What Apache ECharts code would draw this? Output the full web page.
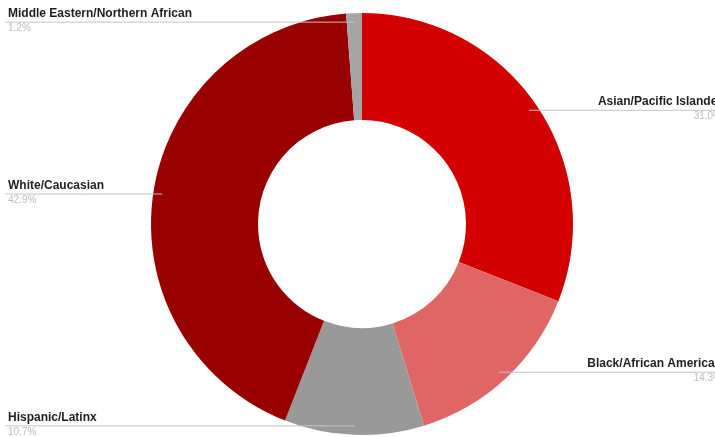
<!DOCTYPE html>
<html>
<head>
<meta charset="utf-8">
<script src="https://cdn.jsdelivr.net/npm/echarts@6/dist/echarts.min.js"></script>
<style>
html,body{margin:0;padding:0;background:#fff;}
#chart{width:715px;height:437px;}
</style>
</head>
<body>
<div id="chart"></div>
<script>
const categories = ['Asian/Pacific Islander', 'Black/African American', 'Hispanic/Latinx', 'White/Caucasian', 'Middle Eastern/Northern African'];
const values = [31.0, 14.3, 10.7, 42.9, 1.2];
const colors = ['#d30000', '#e06666', '#999999', '#990000', '#a5a5a5'];

const W = 715, H = 437;
const CX = 362, CY = 224, R_OUT = 211, R_IN = 104;
const DOT_R = 202;

const pieData = categories.map((c, i) => ({name: c, value: values[i]}));
const common = {
  type: 'pie',
  center: [CX, CY],
  radius: [R_IN, R_OUT],
  startAngle: 90,
  clockwise: true,
  avoidLabelOverlap: false,
  emphasis: {disabled: true},
  silent: true
};

const chart = echarts.init(document.getElementById('chart'), null, {renderer: 'canvas'});
chart.setOption({
  animation: false,
  color: colors,
  series: [
    Object.assign({}, common, {
      z: 2,
      data: pieData,
      itemStyle: {borderWidth: 0},
      label: {show: false},
      labelLine: {show: false}
    }),
    Object.assign({}, common, {
      z: 5,
      data: pieData,
      itemStyle: {color: 'rgba(0,0,0,0)', borderWidth: 0},
      label: {
        show: true,
        position: 'outside',
        formatter: p => '{n|' + p.name + '}\n{p|' + p.value.toFixed(1) + '%}',
        rich: {
          n: {fontFamily: 'Liberation Sans, Arial, sans-serif', fontWeight: 'bold', fontSize: 12, color: '#1f1f1f', lineHeight: 12},
          p: {fontFamily: 'Liberation Sans, Arial, sans-serif', fontSize: 10, color: '#bdbdbd', lineHeight: 17}
        }
      },
      labelLine: {
        show: true,
        length: 0,
        length2: 0,
        smooth: false,
        lineStyle: {color: '#c4c4c4', width: 1}
      },
      labelLayout: function (params) {
        const p0 = params.labelLinePoints[0];
        const dx = p0[0] - CX, dy = p0[1] - CY;
        const len = Math.sqrt(dx * dx + dy * dy) || 1;
        const px = CX + dx / len * DOT_R;
        const py = CY + dy / len * DOT_R;
        const isLeft = dx < 0;
        const edge = isLeft ? 5 : W;
        return {
          x: isLeft ? 8 : W + 7,
          y: py,
          align: isLeft ? 'left' : 'right',
          verticalAlign: 'middle',
          hideOverlap: false,
          moveOverlap: null,
          labelLinePoints: [[px, py], [(px + edge) / 2, py], [edge, py]]
        };
      }
    })
  ]
});
</script>
</body>
</html>
